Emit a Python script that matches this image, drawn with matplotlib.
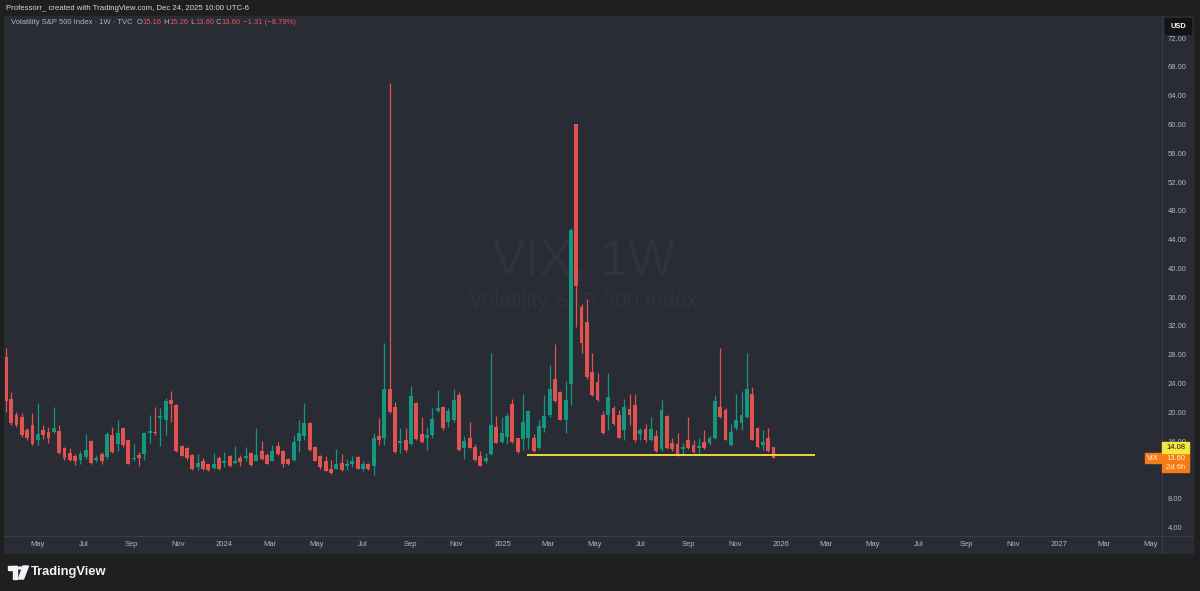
import matplotlib
matplotlib.use("Agg")
import matplotlib.pyplot as plt
import matplotlib.dates as mdates
from matplotlib.patches import Rectangle, Polygon, Circle
from matplotlib.lines import Line2D
import numpy as np
import pandas as pd

plt.rcParams['font.family'] = ['Liberation Sans', 'DejaVu Sans']

# weekly VIX candles, first bar is the week of 2023-03-20
first_week = "2023-03-20"
opens = [27.7, 21.9, 19.6, 19.3, 17.5, 18.2, 16.2, 17.6, 17.3, 17.3,
         17.4, 15.1, 14.3, 14.0, 13.4, 13.8, 16.0, 13.4, 14.2, 13.8,
         16.8, 15.6, 17.9, 16.2, 13.5, 14.1, 14.2, 17.1, 17.3, 19.2,
         18.9, 21.7, 21.0, 15.3, 15.0, 14.1, 12.4, 13.2, 12.8, 12.3,
         13.7, 13.0, 13.9, 13.0, 13.7, 13.6, 14.3, 13.3, 14.6, 14.1,
         13.3, 15.4, 14.6, 13.5, 13.4, 16.0, 16.7, 18.5, 15.2, 13.9,
         13.2, 12.1, 12.2, 13.0, 12.5, 12.8, 13.8, 12.2, 12.8, 12.6,
         16.7, 16.4, 23.3, 20.7, 15.8, 16.2, 15.6, 21.3, 17.0, 16.5,
         16.8, 20.2, 20.7, 18.6, 18.9, 22.4, 15.1, 16.5, 15.2, 13.9,
         13.3, 14.2, 18.0, 15.9, 16.6, 21.2, 16.4, 16.3, 16.4, 16.4,
         15.0, 17.9, 19.6, 24.6, 22.9, 18.9, 24.0, 60.0, 34.6, 32.6,
         25.6, 24.2, 19.7, 19.6, 20.6, 19.7, 17.5, 20.5, 21.0, 17.0,
         17.7, 16.2, 16.7, 14.9, 19.5, 15.7, 15.6, 14.9, 16.2, 15.5,
         15.0, 15.9, 15.7, 16.5, 20.7, 20.4, 15.5, 17.9, 18.5, 19.3,
         22.6, 17.9, 15.5, 16.4, 15.16]
highs = [28.9, 22.9, 20.1, 19.9, 17.8, 19.9, 21.3, 18.3, 18.0, 20.7,
         18.3, 15.2, 15.0, 14.2, 14.7, 17.0, 16.2, 14.1, 14.5, 17.3,
         18.0, 18.9, 18.0, 16.2, 15.6, 14.5, 17.3, 19.6, 20.8, 20.6,
         22.0, 23.0, 21.1, 15.5, 15.2, 14.2, 14.2, 13.6, 12.9, 14.4,
         13.9, 14.5, 14.1, 15.3, 14.1, 15.2, 14.5, 17.9, 16.0, 14.3,
         15.5, 15.9, 14.8, 13.6, 16.9, 19.0, 21.3, 18.6, 15.3, 14.1,
         13.9, 13.4, 14.9, 14.2, 13.5, 13.9, 13.9, 13.2, 13.0, 17.1,
         19.2, 29.6, 65.7, 21.5, 17.9, 17.8, 23.7, 21.4, 19.3, 18.0,
         20.6, 23.1, 20.9, 20.6, 23.3, 22.9, 16.7, 18.6, 15.6, 14.7,
         14.4, 28.3, 19.5, 19.3, 19.9, 21.8, 16.5, 22.5, 20.3, 17.0,
         19.0, 22.4, 26.6, 29.5, 23.0, 24.3, 45.6, 60.1, 35.1, 35.7,
         28.2, 25.5, 20.2, 25.5, 20.9, 20.3, 21.9, 22.6, 22.6, 17.9,
         18.4, 19.3, 17.5, 21.7, 19.6, 16.4, 17.1, 15.8, 19.3, 16.2,
         16.5, 17.6, 16.7, 22.4, 28.9, 20.6, 18.4, 22.6, 23.0, 28.2,
         23.5, 18.0, 17.6, 17.9, 15.26]
lows = [20.1, 18.2, 18.0, 16.6, 16.2, 15.5, 15.5, 16.3, 15.8, 17.1,
        14.2, 13.4, 13.3, 12.7, 12.9, 13.5, 12.9, 13.1, 12.9, 13.5,
        14.4, 14.7, 15.2, 12.8, 13.2, 12.6, 13.4, 15.7, 16.9, 15.3,
        16.9, 18.7, 14.5, 13.9, 13.4, 12.0, 12.0, 12.0, 11.8, 12.1,
        12.0, 12.4, 12.4, 12.9, 12.5, 13.2, 12.6, 13.2, 13.4, 12.8,
        13.2, 14.1, 12.4, 12.7, 13.3, 14.5, 16.2, 14.7, 13.2, 12.2,
        11.8, 11.4, 12.1, 11.9, 12.0, 12.4, 12.1, 11.8, 12.0, 11.3,
        15.5, 15.5, 19.9, 14.4, 14.4, 14.5, 15.5, 16.2, 15.8, 14.8,
        16.5, 20.1, 17.6, 18.0, 18.7, 14.7, 13.5, 15.0, 13.3, 12.5,
        13.0, 14.1, 15.7, 15.8, 15.6, 15.8, 14.4, 14.8, 14.9, 14.5,
        14.9, 17.3, 19.3, 21.5, 18.9, 17.1, 21.0, 31.9, 28.2, 24.7,
        22.3, 21.6, 17.0, 17.6, 18.3, 16.4, 16.2, 18.3, 15.9, 16.2,
        15.9, 16.0, 14.5, 14.7, 14.9, 14.7, 13.9, 14.2, 14.9, 14.4,
        14.2, 14.9, 15.5, 16.3, 19.2, 16.1, 15.3, 17.6, 17.6, 19.2,
        16.1, 15.1, 14.8, 14.5, 13.60]
closes = [21.6, 18.5, 18.2, 16.9, 16.5, 15.6, 17.0, 16.9, 16.5, 17.8,
          14.3, 13.6, 13.4, 13.3, 14.2, 14.8, 13.0, 13.7, 13.2, 17.0,
          14.5, 17.2, 15.5, 12.9, 13.7, 13.6, 17.1, 17.4, 17.1, 19.5,
          21.6, 21.2, 14.7, 13.9, 13.6, 12.2, 13.0, 12.2, 12.0, 12.9,
          12.2, 13.3, 12.5, 13.2, 13.1, 13.9, 12.7, 14.1, 13.5, 12.9,
          14.6, 14.2, 12.9, 12.8, 15.9, 17.2, 18.5, 14.8, 13.3, 12.4,
          11.9, 11.6, 12.8, 12.0, 12.9, 13.2, 12.2, 12.8, 12.2, 16.4,
          16.2, 23.3, 20.1, 14.5, 16.0, 14.8, 22.3, 16.3, 15.9, 16.9,
          19.1, 20.6, 17.8, 20.2, 21.7, 14.8, 16.0, 15.1, 13.4, 12.6,
          13.7, 18.3, 15.8, 17.1, 19.5, 15.9, 14.5, 18.7, 20.2, 14.6,
          18.1, 19.5, 23.3, 21.6, 19.0, 21.7, 45.3, 37.5, 29.6, 24.9,
          22.4, 21.7, 17.1, 22.2, 18.4, 16.5, 20.7, 19.6, 16.1, 17.5,
          16.2, 17.7, 14.7, 20.3, 15.0, 14.9, 14.1, 15.2, 15.0, 14.5,
          15.3, 15.0, 16.5, 21.6, 19.3, 16.2, 17.3, 19.0, 19.7, 23.3,
          16.2, 15.2, 15.9, 14.7, 13.60]

support_level = 14.08
support_start = "2025-02-01"
support_end = "2026-02-14"

view_start = "2023-03-19"
view_end = "2027-05-16"
price_min, price_max = 2.83, 75.06
price_ticks = list(range(4, 73, 4))
hidden_tick = 12  # covered by the last-price label on the scale

legend_parts = [("Volatility S&P 500 Index · 1W · TVC  O", "grey"), ("15.16", "red"),
                (" H", "grey"), ("15.26", "red"), (" L", "grey"), ("13.60", "red"),
                (" C", "grey"), ("13.60", "red"), (" −1.31 (−8.79%)", "red")]

BG = '#1f1f1f'
PANEL = '#292c35'
UP = '#14967f'
DOWN = '#e0534f'
TEXT = '#b2b5be'
SEP = '#3a3d47'
W, H = 1200, 591


def fx(px):
    return px / W


def fy(py):
    return 1 - py / H


fig = plt.figure(figsize=(12, 5.91), dpi=100, facecolor=BG)
fig.add_artist(Rectangle((fx(4), fy(553)), fx(1193) - fx(4), fy(16) - fy(553),
                         transform=fig.transFigure, color=PANEL, zorder=-1))

ax = fig.add_axes([fx(5), fy(536), fx(1162) - fx(5), fy(16) - fy(536)])
ax.set_facecolor(PANEL)

dates = pd.date_range(first_week, periods=len(opens), freq='7D')
x = mdates.date2num(dates)
o, h, l, c = map(np.array, (opens, highs, lows, closes))
cols = np.where(c >= o, UP, DOWN)

ax.vlines(x, l, h, colors=cols, lw=0.9, zorder=2)
ax.bar(x, np.maximum(np.abs(c - o), 0.12), width=5.0, bottom=np.minimum(o, c),
       color=cols, lw=0, zorder=3)

ax.hlines(support_level, mdates.datestr2num(support_start), mdates.datestr2num(support_end),
          color='#ecd83c', lw=1.4, zorder=4)

# watermark
ax.text(0.5, 0.527, "VIX, 1W", transform=ax.transAxes, ha='center', va='center',
        fontsize=36, color='#30333d', zorder=0.5)
ax.text(0.5, 0.45, "Volatility S&P 500 Index", transform=ax.transAxes, ha='center',
        va='center', fontsize=15.5, color='#30333d', zorder=0.5)

ax.set_xlim(mdates.datestr2num(view_start), mdates.datestr2num(view_end))
ax.set_ylim(price_min, price_max)

ax.xaxis.set_major_locator(mdates.MonthLocator(bymonth=[1, 3, 5, 7, 9, 11]))


def month_label(v, pos):
    d = mdates.num2date(v)
    return str(d.year) if d.month == 1 else d.strftime('%b')


ax.xaxis.set_major_formatter(plt.FuncFormatter(month_label))
ax.tick_params(axis='x', length=0, pad=3.5, labelsize=5.5, labelcolor=TEXT)
ax.yaxis.tick_right()
ax.set_yticks(price_ticks)
ax.set_yticklabels(["" if v == hidden_tick else f"{v:.2f}" for v in price_ticks])
ax.tick_params(axis='y', length=0, pad=4, labelsize=5.5, labelcolor=TEXT)
for s in ax.spines.values():
    s.set_visible(False)

fig.add_artist(Line2D([fx(4), fx(1193)], [fy(536), fy(536)], transform=fig.transFigure,
                      color=SEP, lw=0.8))
fig.add_artist(Line2D([fx(1162), fx(1162)], [fy(16), fy(553)], transform=fig.transFigure,
                      color=SEP, lw=0.8))

# header and legend
fig.text(fx(6), fy(9), "Professorr_ created with TradingView.com, Dec 24, 2025 10:00 UTC-6",
         fontsize=5.6, color='#d6d8de', va='center')
prev = fig.text(fx(11), fy(25.5), "", fontsize=5.5, va='center')
for txt, kind in legend_parts:
    prev = ax.annotate(txt, xy=(1, 0), xycoords=prev, va='bottom', ha='left',
                       fontsize=5.5, color=TEXT if kind == "grey" else '#e25a5c',
                       annotation_clip=False)

# USD box
fig.add_artist(Rectangle((fx(1165), fy(34)), fx(26), 16 / H, transform=fig.transFigure,
                         color='#141414', zorder=5))
fig.text(fx(1178), fy(26), "USD", fontsize=5.3, weight='bold', color='white',
         ha='center', va='center', zorder=6)

# price labels on the scale
yc = ax.transData.transform((x[-1], closes[-1]))[1] / H
px1 = 1 / H
fig.add_artist(Rectangle((fx(1162), yc - 14 * px1), fx(27), 19 * px1,
                         transform=fig.transFigure, color='#f47b16', zorder=5))
fig.add_artist(Rectangle((fx(1162), yc + 5.5 * px1), fx(27), 10.5 * px1,
                         transform=fig.transFigure, color='#f5e63c', zorder=5))
fig.add_artist(Rectangle((fx(1145), yc - 4.5 * px1), fx(16), 9.5 * px1,
                         transform=fig.transFigure, color='#f47b16', zorder=5))
fig.text(fx(1175.5), yc + 10.5 * px1, f"{support_level:.2f}", fontsize=5.5, color='#1a1a1a',
         ha='center', va='center', zorder=6)
fig.text(fx(1175.5), yc, f"{closes[-1]:.2f}", fontsize=5.5, color='#fff4d8',
         ha='center', va='center', zorder=6)
fig.text(fx(1175.5), yc - 9 * px1, "2d 6h", fontsize=5.5, color='#fff4d8',
         ha='center', va='center', zorder=6)
fig.text(fx(1153), yc, "VIX", fontsize=5.3, color='white', ha='center', va='center', zorder=6)

# TradingView logo
logo = '#f0f3fa'
fig.add_artist(Rectangle((fx(8), fy(570)), fx(9), 4 / H, transform=fig.transFigure, color=logo))
fig.add_artist(Rectangle((fx(13), fy(579)), fx(4), 13 / H, transform=fig.transFigure, color=logo))
fig.add_artist(Circle((fx(20.5), fy(568)), 2 / W, transform=fig.transFigure, color=logo))
fig.add_artist(Polygon([(fx(23), fy(566)), (fx(28.5), fy(566)), (fx(23.5), fy(579)),
                        (fx(18.5), fy(579))], closed=True, transform=fig.transFigure, color=logo))
fig.text(fx(31), fy(572.5), "TradingView", fontsize=9.3, weight='bold', color=logo, va='center')

fig.savefig("out.png", dpi=100, facecolor=BG)
